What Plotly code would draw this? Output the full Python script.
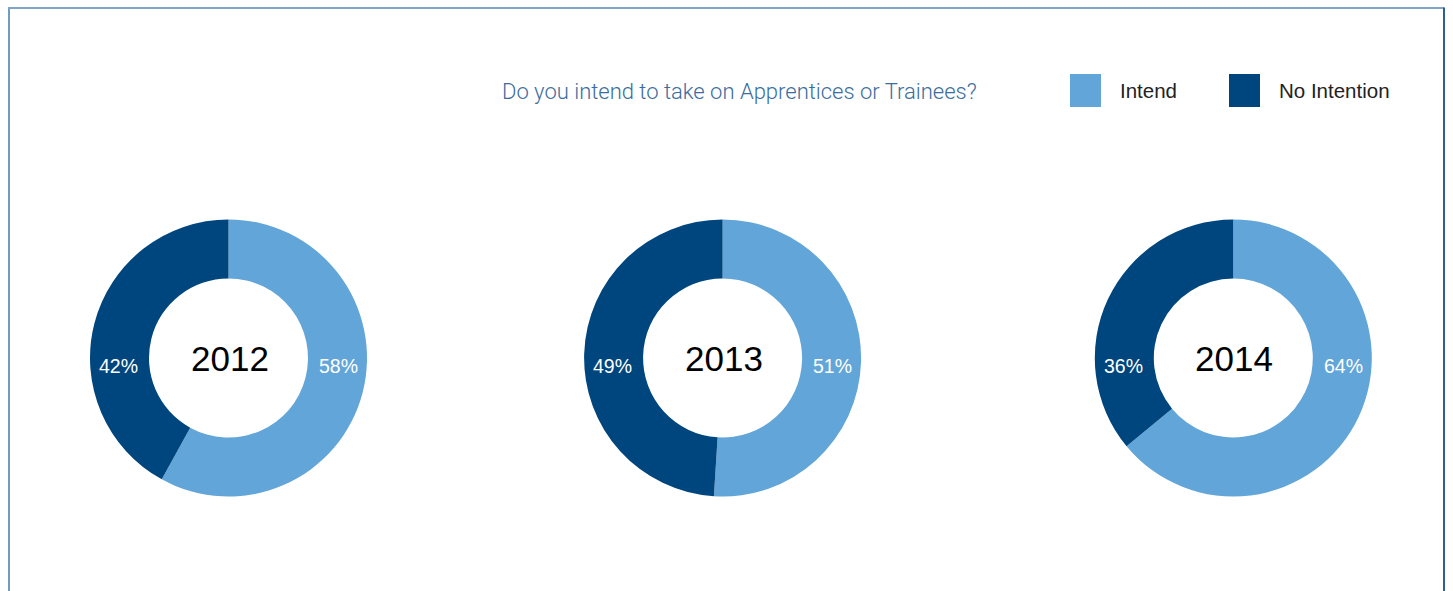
import plotly.graph_objects as go

# Survey responses by year (percent)
years = ["2012", "2013", "2014"]
intend = [58, 51, 64]
no_intention = [42, 49, 36]
categories = ["Intend", "No Intention"]
colors = ["#62a5d8", "#00467e"]

W, H = 1453, 591
centers_x = [228.5, 722.6, 1233.3]   # donut centres, px
center_y = 358.0
outer_r = 138.5
hole = 0.574
label_r = 110.0


def px(x):
    return x / W


def py(y):
    return 1 - y / H


fig = go.Figure()
annotations = []

for yr, a, b, cx in zip(years, intend, no_intention, centers_x):
    fig.add_trace(go.Pie(
        labels=categories,
        values=[a, b],
        marker=dict(colors=colors, line=dict(width=0)),
        hole=hole,
        sort=False,
        direction="clockwise",
        rotation=0,
        textinfo="none",
        hoverinfo="skip",
        showlegend=False,
        domain=dict(x=[px(cx - outer_r), px(cx + outer_r)],
                    y=[py(center_y + outer_r), py(center_y - outer_r)]),
    ))
    annotations.append(dict(
        x=px(cx + 1), y=py(center_y), xref="paper", yref="paper",
        text=yr, showarrow=False, xanchor="center", yanchor="middle",
        font=dict(family="Liberation Sans, Arial, sans-serif", size=35, color="#000000"),
    ))
    for val, dx in ((a, label_r), (b, -label_r)):
        annotations.append(dict(
            x=px(cx + dx), y=py(center_y + 8), xref="paper", yref="paper",
            text=f"{val}%", showarrow=False, xanchor="center", yanchor="middle",
            font=dict(family="Liberation Sans, Arial, sans-serif", size=19.5, color="#ffffff"),
        ))

# Title
annotations.append(dict(
    x=px(500), y=py(92), xref="paper", yref="paper",
    text="Do you intend to take on Apprentices or Trainees?",
    showarrow=False, xanchor="left", yanchor="middle",
    font=dict(family="Roboto, Liberation Sans, sans-serif", size=22, color="#3b6d9e", weight=300),
))

# Legend entries
legend_items = [("Intend", colors[0], 1070, 1118), ("No Intention", colors[1], 1229, 1277)]
shapes = []
for name, col, sx, tx in legend_items:
    shapes.append(dict(type="rect", xref="paper", yref="paper",
                       x0=px(sx), x1=px(sx + 31), y0=py(74), y1=py(107),
                       fillcolor=col, line=dict(width=0)))
    annotations.append(dict(
        x=px(tx), y=py(91), xref="paper", yref="paper", text=name,
        showarrow=False, xanchor="left", yanchor="middle",
        font=dict(family="Liberation Sans, Arial, sans-serif", size=20.5, color="#222222"),
    ))

# Frame
shapes += [
    dict(type="line", xref="paper", yref="paper", x0=px(9), x1=px(9), y0=py(7.5), y1=0,
         line=dict(color="#6f9cc3", width=2)),
    dict(type="line", xref="paper", yref="paper", x0=px(8), x1=px(1444), y0=py(8), y1=py(8),
         line=dict(color="#7fa4c6", width=2)),
    dict(type="line", xref="paper", yref="paper", x0=px(1444), x1=px(1444), y0=py(7.5), y1=0,
         line=dict(color="#2a5f99", width=2)),
]

fig.update_layout(
    width=W, height=H,
    margin=dict(l=0, r=0, t=0, b=0),
    paper_bgcolor="#ffffff",
    plot_bgcolor="#ffffff",
    annotations=annotations,
    shapes=shapes,
    showlegend=False,
)

fig.write_html("out.html", config={"displayModeBar": False})
